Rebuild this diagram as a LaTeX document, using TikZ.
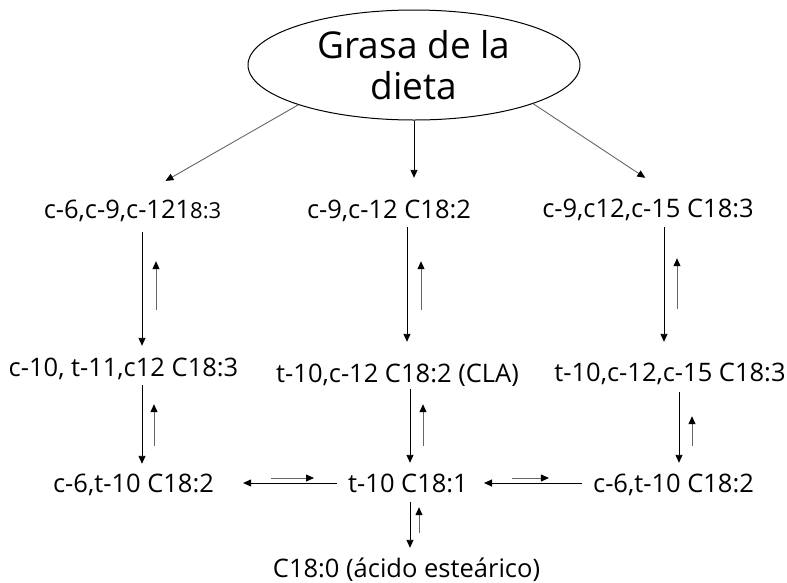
\documentclass[tikz,border=0pt]{standalone}
\usepackage{fontspec}
\setmainfont{Open Sans}
\usetikzlibrary{shapes.geometric,arrows.meta}

\begin{document}
\begin{tikzpicture}[x=1pt,y=-1pt,
		lbl/.style={font=\fontsize{25.5}{30}\selectfont,inner sep=0pt,text height=18pt,text depth=5pt,anchor=base},
		dn/.style={line width=0.9pt,-{Triangle[length=8pt,width=7pt]}},
		up/.style={line width=0.9pt,black!60,-{Triangle[length=8pt,width=7pt,color=black]}}]
			\useasboundingbox (0,0) rectangle (787,582);
			\node[ellipse,draw,line width=1pt,minimum width=332pt,minimum height=110pt,inner sep=0pt,
				align=center,font=\fontsize{37}{41}\selectfont] (grasa) at (414,65) {Grasa de la\\dieta};
			% first row
			\node[lbl] (lin) at (132.5,218) {c-6,c-9,c-121{\fontsize{22}{26}\selectfont 8:3}};
			\node[lbl] (la) at (389,218) {c-9,c-12 C18:2};
			\node[lbl] (ala) at (648,217) {c-9,c12,c-15 C18:3};
			% second row
			\node[lbl] (r2L) at (123.5,376) {c-10, t-11,c12 C18:3};
			\node[lbl] (cla) at (397.5,382) {t-10,c-12 C18:2 (CLA)};
			\node[lbl] (r2R) at (670,381) {t-10,c-12,c-15 C18:3};
			% third row
			\node[lbl] (c6L) at (133.5,492) {c-6,t-10 C18:2};
			\node[lbl] (tten) at (408,492) {t-10 C18:1};
			\node[lbl] (c6R) at (673.5,492) {c-6,t-10 C18:2};
			\node[lbl] (este) at (406.5,577) {C18:0 (ácido esteárico)};
			% from the diet
			\draw[up,shorten >=38pt] (grasa.-161) -- (lin.north);
			\draw[dn,shorten >=22pt] (grasa.south) -- (grasa.south |- la.north);
			\draw[up,shorten >=38pt] (grasa.-18) -- ([xshift=29pt]ala.north);
			% down and back up
			\foreach \a/\b/\dx/\ux/\ds/\de/\us/\ue in {lin/r2L/9.5/23.5/9/12/48/38, r2L/c6L/18.5/30.5/4/10/28/23,
				la/cla/18/32/4/22/54/38, cla/tten/12.5/25.5/2/11/28/17,
				ala/r2R/16/29/5/21/54/36, r2R/c6R/9/22/6/11/28/30, tten/este/2/11/5/11/26/10}
			{
				\draw[dn,shorten <=\ds pt,shorten >=\de pt] ([xshift=\dx pt]\a.south) -- ([xshift=\dx pt]\a.south |- \b.north);
				\draw[up,shorten <=\us pt,shorten >=\ue pt] ([xshift=\ux pt]\a.south |- \b.north) -- ([xshift=\ux pt]\a.south);
			}
			% sideways
			\draw[dn,shorten <=11pt,shorten >=29pt] ([yshift=2.5pt]tten.west) -- ([yshift=2.5pt]c6L.east);
			\draw[up,shorten <=57pt,shorten >=34pt] ([yshift=7.5pt]c6L.east) -- ([yshift=7.5pt]tten.west);
			\draw[dn,shorten <=11pt,shorten >=16pt] ([yshift=2.5pt]c6R.west) -- ([yshift=2.5pt]tten.east);
			\draw[up,shorten <=44pt,shorten >=44pt] ([yshift=7.5pt]tten.east) -- ([yshift=7.5pt]c6R.west);
		\end{tikzpicture}
\end{document}
